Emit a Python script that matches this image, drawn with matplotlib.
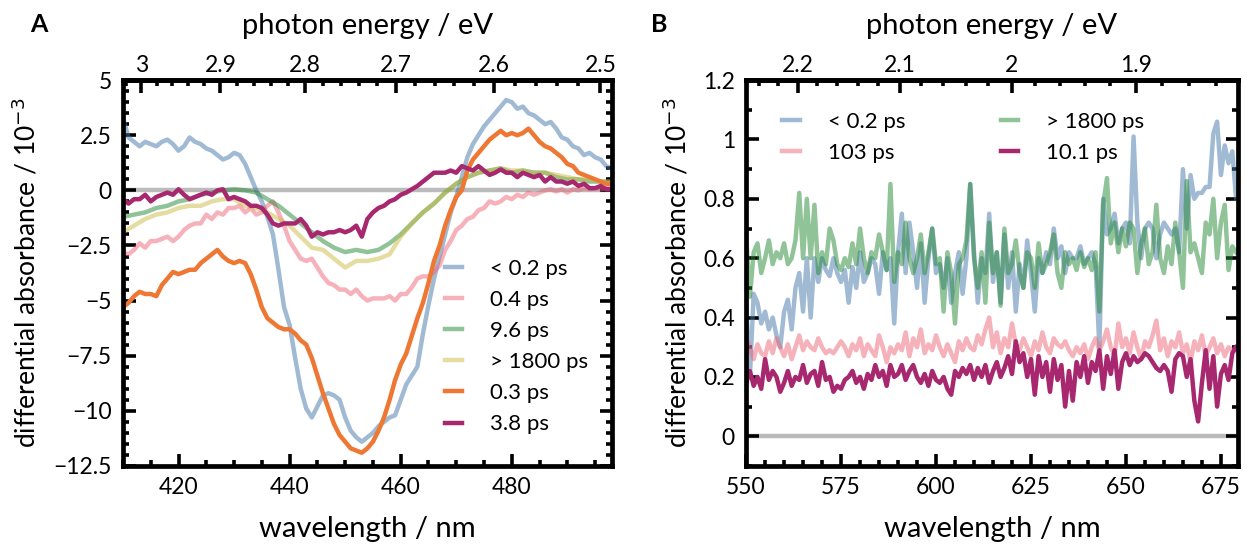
import numpy as np
import matplotlib
matplotlib.use('Agg')
import matplotlib.pyplot as plt
from matplotlib.ticker import MultipleLocator, FixedLocator, FuncFormatter

plt.rcParams['font.family'] = ['Lato', 'DejaVu Sans']
plt.rcParams['axes.unicode_minus'] = True

# ---- panel A data (wavelength in nm, signal in 1e-3) ----
wl_a = np.arange(410, 499)
wl_a2 = np.arange(410, 499, 2)

blue_a = [3.3, 2.4, 2.2, 2.0, 2.2, 2.1, 2.0, 2.2, 2.3, 2.1,
          1.8, 2.0, 2.4, 2.2, 2.1, 1.9, 1.8, 1.6, 1.4, 1.5,
          1.7, 1.6, 1.2, 0.6, 0.0, -0.5, -1.2, -2.0, -3.6, -5.3,
          -6.1, -7.6, -9.0, -9.9, -10.3, -9.8, -9.3, -9.2, -9.3, -9.5,
          -10.3, -10.9, -11.2, -11.4, -11.2, -11.0, -10.7, -10.5, -10.3, -10.2,
          -9.5, -8.8, -8.4, -8.0, -6.5, -5.2, -4.0, -3.0, -2.0, -1.0,
          -0.3, 0.6, 1.5, 2.1, 2.5, 2.9, 3.2, 3.5, 3.8, 4.1,
          4.0, 3.7, 3.8, 3.5, 3.4, 3.2, 3.0, 3.1, 2.8, 2.4,
          2.3, 2.0, 1.9, 1.6, 1.7, 1.5, 1.4, 1.1, 1.0]

pink_a = [-2.8, -2.9, -2.7, -2.4, -2.6, -2.3, -2.3, -2.2, -2.1, -2.3,
          -2.1, -1.8, -1.6, -1.5, -1.5, -1.1, -1.3, -1.0, -1.1, -0.8,
          -0.8, -0.7, -1.0, -0.8, -1.1, -1.0, -0.7, -0.5, -1.0, -1.6,
          -2.3, -2.7, -3.1, -3.2, -3.1, -3.5, -3.9, -4.2, -4.3, -4.5,
          -4.5, -4.7, -4.5, -4.8, -5.0, -4.9, -4.9, -4.9, -4.8, -5.0,
          -4.7, -4.7, -4.4, -4.0, -3.9, -3.9, -3.7, -3.4, -2.7, -2.3,
          -1.8, -1.6, -1.3, -1.2, -0.9, -0.8, -0.5, -0.6, -0.5, -0.3,
          -0.4, -0.2, -0.3, -0.1, -0.2, -0.1, 0.0, 0.05, -0.05, 0.05,
          -0.1, 0.05, 0.0, 0.1, 0.05, 0.1, 0.05, 0.1, 0.1]

green_a = [-1.2, -1.1, -1.0, -0.8, -0.7, -0.5, -0.4, -0.2, -0.1, 0.0,
           0.05, 0.0, -0.1, -0.4, -0.7, -1.1, -1.5, -1.9, -2.3, -2.6,
           -2.8, -2.7, -2.8, -2.7, -2.4, -2.0, -1.5, -1.0, -0.6, -0.1,
           0.3, 0.6, 0.8, 0.9, 1.0, 0.8, 0.9, 0.8, 0.8, 0.6,
           0.5, 0.5, 0.4, 0.4, 0.4]

yellow_a = [-1.9, -1.6, -1.3, -1.1, -1.0, -0.8, -0.7, -0.7, -0.5, -0.4,
            -0.4, -0.7, -0.8, -1.0, -1.3, -1.6, -2.1, -2.6, -2.7, -3.1,
            -3.5, -3.2, -3.2, -3.1, -2.9, -2.1, -1.5, -1.0, -0.6, -0.1,
            0.3, 0.6, 0.8, 0.9, 1.0, 0.9, 0.9, 0.8, 0.8, 0.7,
            0.6, 0.5, 0.5, 0.4, 0.4]

orange_a = [-5.3, -5.1, -4.8, -4.6, -4.7, -4.7, -4.8, -4.3, -4.0, -3.7,
            -3.8, -3.7, -3.6, -3.6, -3.3, -3.1, -2.9, -2.7, -3.0, -3.2,
            -3.3, -3.2, -3.3, -3.8, -4.5, -5.3, -5.8, -6.0, -6.2, -6.3,
            -6.3, -6.5, -6.8, -7.0, -7.6, -8.4, -9.2, -9.9, -10.6, -11.1,
            -11.4, -11.7, -11.8, -11.9, -11.7, -11.4, -10.9, -10.3, -9.5, -8.6,
            -7.9, -7.4, -6.6, -5.8, -5.1, -4.2, -3.2, -2.5, -1.6, -0.9,
            -0.3, 0.0, 0.9, 1.4, 1.7, 2.0, 2.3, 2.5, 2.7, 2.5,
            2.6, 2.5, 2.6, 2.8, 2.5, 2.2, 2.0, 1.9, 1.7, 1.5,
            1.2, 1.1, 0.8, 0.7, 0.6, 0.5, 0.4, 0.3, 0.3]

purple_a = [-0.4, -0.6, -0.4, -0.4, -0.2, -0.5, -0.3, -0.2, -0.1, -0.2,
            0.05, -0.2, -0.4, -0.3, -0.2, -0.1, -0.2, 0.0, 0.05, -0.4,
            -0.3, -0.4, -0.5, -0.7, -0.7, -0.8, -1.1, -1.5, -1.6, -1.5,
            -1.5, -1.5, -1.3, -1.6, -2.1, -1.9, -2.0, -1.9, -1.9, -1.8,
            -1.9, -1.8, -1.6, -2.1, -1.3, -1.0, -0.8, -0.7, -0.5, -0.4,
            -0.2, -0.1, 0.05, 0.2, 0.4, 0.6, 0.8, 0.8, 0.8, 0.9,
            0.8, 1.1, 1.0, 0.9, 1.1, 0.9, 0.7, 0.8, 0.95, 0.8,
            0.8, 0.6, 0.8, 0.7, 0.6, 0.7, 0.4, 0.6, 0.4, 0.4,
            0.3, 0.4, 0.2, 0.3, 0.1, 0.1, 0.2, 0.05, 0.05]

# ---- panel B data ----
wl_b = np.arange(550, 680)

blue_b = [0.45, 0.20, 0.48, 0.45, 0.38, 0.42, 0.36, 0.40, 0.34, 0.30,
          0.42, 0.46, 0.36, 0.50, 0.55, 0.42, 0.60, 0.40, 0.60, 0.52,
          0.60, 0.56, 0.54, 0.60, 0.55, 0.52, 0.56, 0.45, 0.57, 0.50,
          0.62, 0.52, 0.55, 0.60, 0.58, 0.48, 0.62, 0.56, 0.60, 0.38,
          0.62, 0.75, 0.55, 0.72, 0.62, 0.50, 0.65, 0.45, 0.60, 0.70,
          0.55, 0.58, 0.50, 0.60, 0.45, 0.55, 0.62, 0.48, 0.60, 0.85,
          0.62, 0.45, 0.60, 0.55, 0.75, 0.52, 0.62, 0.45, 0.68, 0.50,
          0.62, 0.42, 0.58, 0.50, 0.66, 0.55, 0.42, 0.60, 0.55, 0.62,
          0.58, 0.70, 0.60, 0.64, 0.55, 0.62, 0.60, 0.60, 0.64, 0.58,
          0.60, 0.62, 0.58, 0.30, 0.80, 0.68, 0.70, 0.75, 0.65, 0.70,
          0.72, 0.65, 1.01, 0.72, 0.60, 0.70, 0.72, 0.70, 0.60, 0.68,
          0.72, 0.70, 0.68, 0.70, 0.62, 0.90, 0.70, 0.88, 0.80, 0.82,
          0.82, 0.84, 0.84, 1.02, 1.06, 0.88, 0.98, 0.92, 0.96, 0.80]

green_b = [0.68, 0.47, 0.62, 0.65, 0.55, 0.60, 0.66, 0.58, 0.62, 0.60,
           0.65, 0.58, 0.60, 0.66, 0.82, 0.60, 0.80, 0.60, 0.78, 0.55,
           0.62, 0.58, 0.70, 0.66, 0.58, 0.56, 0.60, 0.57, 0.65, 0.58,
           0.70, 0.60, 0.55, 0.62, 0.60, 0.68, 0.62, 0.56, 0.85, 0.52,
           0.62, 0.58, 0.72, 0.60, 0.55, 0.60, 0.68, 0.55, 0.62, 0.70,
           0.58, 0.60, 0.42, 0.62, 0.55, 0.38, 0.58, 0.60, 0.66, 0.85,
           0.60, 0.50, 0.62, 0.45, 0.72, 0.55, 0.62, 0.44, 0.70, 0.55,
           0.58, 0.66, 0.55, 0.50, 0.62, 0.60, 0.50, 0.65, 0.55, 0.58,
           0.62, 0.68, 0.55, 0.50, 0.62, 0.58, 0.60, 0.56, 0.62, 0.57,
           0.60, 0.56, 0.62, 0.42, 0.78, 0.87, 0.65, 0.72, 0.62, 0.70,
           0.64, 0.72, 0.70, 0.55, 0.65, 0.70, 0.58, 0.62, 0.78, 0.60,
           0.55, 0.64, 0.58, 0.72, 0.62, 0.50, 0.86, 0.62, 0.65, 0.60,
           0.55, 0.72, 0.68, 0.80, 0.60, 0.72, 0.78, 0.56, 0.64, 0.62]

pink_b = [0.33, 0.30, 0.26, 0.31, 0.28, 0.27, 0.32, 0.28, 0.33, 0.30,
          0.27, 0.31, 0.26, 0.30, 0.34, 0.29, 0.32, 0.30, 0.29, 0.33,
          0.30, 0.28, 0.29, 0.28, 0.30, 0.32, 0.30, 0.27, 0.31, 0.29,
          0.33, 0.27, 0.31, 0.29, 0.27, 0.34, 0.30, 0.25, 0.30, 0.28,
          0.31, 0.29, 0.35, 0.27, 0.33, 0.30, 0.36, 0.28, 0.31, 0.29,
          0.34, 0.30, 0.27, 0.31, 0.28, 0.25, 0.32, 0.29, 0.33, 0.30,
          0.29, 0.34, 0.31, 0.36, 0.40, 0.30, 0.35, 0.28, 0.33, 0.30,
          0.38, 0.31, 0.29, 0.33, 0.30, 0.27, 0.32, 0.29, 0.35, 0.30,
          0.28, 0.33, 0.31, 0.30, 0.32, 0.29, 0.27, 0.30, 0.28, 0.31,
          0.26, 0.30, 0.33, 0.29, 0.32, 0.36, 0.30, 0.27, 0.38, 0.30,
          0.33, 0.28, 0.35, 0.30, 0.26, 0.32, 0.30, 0.34, 0.39, 0.29,
          0.33, 0.27, 0.32, 0.30, 0.35, 0.28, 0.31, 0.25, 0.32, 0.29,
          0.34, 0.27, 0.30, 0.33, 0.28, 0.31, 0.27, 0.30, 0.29, 0.30]

purple_b = [0.18, 0.22, 0.17, 0.20, 0.16, 0.26, 0.19, 0.22, 0.20, 0.15,
            0.18, 0.22, 0.17, 0.20, 0.19, 0.24, 0.18, 0.21, 0.22, 0.17,
            0.25, 0.19, 0.20, 0.15, 0.17, 0.16, 0.19, 0.20, 0.22, 0.18,
            0.20, 0.16, 0.21, 0.19, 0.24, 0.20, 0.22, 0.17, 0.24, 0.20,
            0.21, 0.24, 0.19, 0.22, 0.24, 0.20, 0.18, 0.21, 0.17, 0.22,
            0.19, 0.18, 0.20, 0.16, 0.14, 0.22, 0.20, 0.23, 0.21, 0.24,
            0.19, 0.23, 0.20, 0.24, 0.18, 0.22, 0.25, 0.20, 0.23, 0.27,
            0.21, 0.32, 0.25, 0.28, 0.20, 0.26, 0.14, 0.27, 0.20, 0.25,
            0.15, 0.26, 0.19, 0.24, 0.10, 0.22, 0.12, 0.25, 0.20, 0.27,
            0.18, 0.25, 0.22, 0.29, 0.16, 0.27, 0.21, 0.29, 0.16, 0.25,
            0.28, 0.24, 0.27, 0.25, 0.26, 0.28, 0.27, 0.25, 0.23, 0.22,
            0.24, 0.22, 0.15, 0.26, 0.28, 0.27, 0.20, 0.26, 0.12, 0.05,
            0.18, 0.29, 0.16, 0.27, 0.10, 0.21, 0.24, 0.19, 0.28, 0.30]

# colours
c_blue = (0.267, 0.467, 0.667, 0.5)
c_pink = (0.933, 0.40, 0.467, 0.5)
c_green = (0.133, 0.533, 0.20, 0.5)
c_yellow = (0.80, 0.733, 0.267, 0.5)
c_orange = '#ee7733'
c_purple = '#a8286f'

HC = 1239.84
TICK_FS = 16.5
LABEL_FS = 21


def nm_to_ev(x):
    x = np.asarray(x, dtype=float)
    return HC / np.where(x == 0, 1e-9, x)


def fmt(v, pos):
    s = '%g' % v
    return s.replace('-', '\u2212')


def style_axes(ax):
    for sp in ax.spines.values():
        sp.set_linewidth(3.4)
    ax.tick_params(which='both', direction='in', top=False, right=True,
                   width=2.6, labelsize=TICK_FS, pad=8)
    ax.tick_params(which='major', length=9)
    ax.tick_params(which='minor', length=4.5)
    ax.yaxis.set_major_formatter(FuncFormatter(fmt))


def style_top(sec):
    sec.xaxis.set_major_formatter(FuncFormatter(fmt))
    sec.tick_params(which='both', direction='in', width=2.6, labelsize=TICK_FS, pad=3)
    sec.tick_params(which='major', length=9)
    sec.tick_params(which='minor', length=4.5)
    sec.spines['top'].set_linewidth(3.4)
    sec.set_xlabel('photon energy / eV', fontsize=LABEL_FS, labelpad=15)


fig = plt.figure(figsize=(12.47, 5.45), dpi=100)
axA = fig.add_axes([0.0986, 0.145, 0.392, 0.708])
axB = fig.add_axes([0.5983, 0.145, 0.3945, 0.708])

# ---- panel A ----
axA.axhline(0, color='#bbbbbb', lw=3.2, zorder=1)
lw = 3.2
axA.plot(wl_a, blue_a, color=c_blue, lw=lw, label='< 0.2 ps')
axA.plot(wl_a, pink_a, color=c_pink, lw=lw, label='0.4 ps')
axA.plot(wl_a2, green_a, color=c_green, lw=lw, label='9.6 ps')
axA.plot(wl_a2, yellow_a, color=c_yellow, lw=lw, label='> 1800 ps')
axA.plot(wl_a, orange_a, color=c_orange, lw=lw, label='0.3 ps')
axA.plot(wl_a, purple_a, color=c_purple, lw=lw, label='3.8 ps')
axA.set_xlim(410, 498)
axA.set_ylim(-12.5, 5)
axA.xaxis.set_major_locator(MultipleLocator(20))
axA.xaxis.set_minor_locator(MultipleLocator(5))
axA.yaxis.set_major_locator(MultipleLocator(2.5))
axA.yaxis.set_minor_locator(MultipleLocator(0.5))
style_axes(axA)
axA.set_xlabel('wavelength / nm', fontsize=LABEL_FS, labelpad=13)
axA.set_ylabel('differential absorbance / 10$^{-3}$', fontsize=19)
axA.yaxis.set_label_coords(-0.168, 0.5)
axA.legend(loc='upper left', bbox_to_anchor=(0.64, 0.56), frameon=False,
           fontsize=16, handlelength=0.8, handletextpad=1.25, labelspacing=0.5,
           borderaxespad=0)

secA = axA.secondary_xaxis('top', functions=(nm_to_ev, nm_to_ev))
secA.xaxis.set_major_locator(FixedLocator([3.0, 2.9, 2.8, 2.7, 2.6, 2.5]))
secA.xaxis.set_minor_locator(FixedLocator(np.round(np.arange(2.5, 3.03, 0.02), 2)))
style_top(secA)

# ---- panel B ----
axB.axhline(0, color='#bbbbbb', lw=3.2, zorder=1)
axB.plot(wl_b, blue_b, color=c_blue, lw=lw, label='< 0.2 ps')
axB.plot(wl_b, pink_b, color=c_pink, lw=lw, label='103 ps')
axB.plot(wl_b, green_b, color=c_green, lw=lw, label='> 1800 ps')
axB.plot(wl_b, purple_b, color=c_purple, lw=lw, label='10.1 ps')
axB.set_xlim(550, 679.5)
axB.set_ylim(-0.1, 1.2)
axB.xaxis.set_major_locator(MultipleLocator(25))
axB.xaxis.set_minor_locator(MultipleLocator(5))
axB.yaxis.set_major_locator(MultipleLocator(0.2))
axB.yaxis.set_minor_locator(MultipleLocator(0.1))
style_axes(axB)
axB.set_xlabel('wavelength / nm', fontsize=LABEL_FS, labelpad=13)
axB.set_ylabel('differential absorbance / 10$^{-3}$', fontsize=19)
axB.yaxis.set_label_coords(-0.11, 0.5)
axB.legend(loc='upper left', bbox_to_anchor=(0.055, 0.94), frameon=False, ncol=2,
           fontsize=16, handlelength=0.8, handletextpad=1.25, labelspacing=0.5,
           columnspacing=4.3, borderaxespad=0)

secB = axB.secondary_xaxis('top', functions=(nm_to_ev, nm_to_ev))
secB.xaxis.set_major_locator(FixedLocator([2.2, 2.1, 2.0, 1.9]))
secB.xaxis.set_minor_locator(FixedLocator(np.round(np.arange(1.82, 2.27, 0.02), 2)))
style_top(secB)

fig.text(0.024, 0.955, 'A', fontsize=18, fontweight='bold', va='center')
fig.text(0.522, 0.955, 'B', fontsize=18, fontweight='bold', va='center')

fig.savefig('out.png', dpi=100)
